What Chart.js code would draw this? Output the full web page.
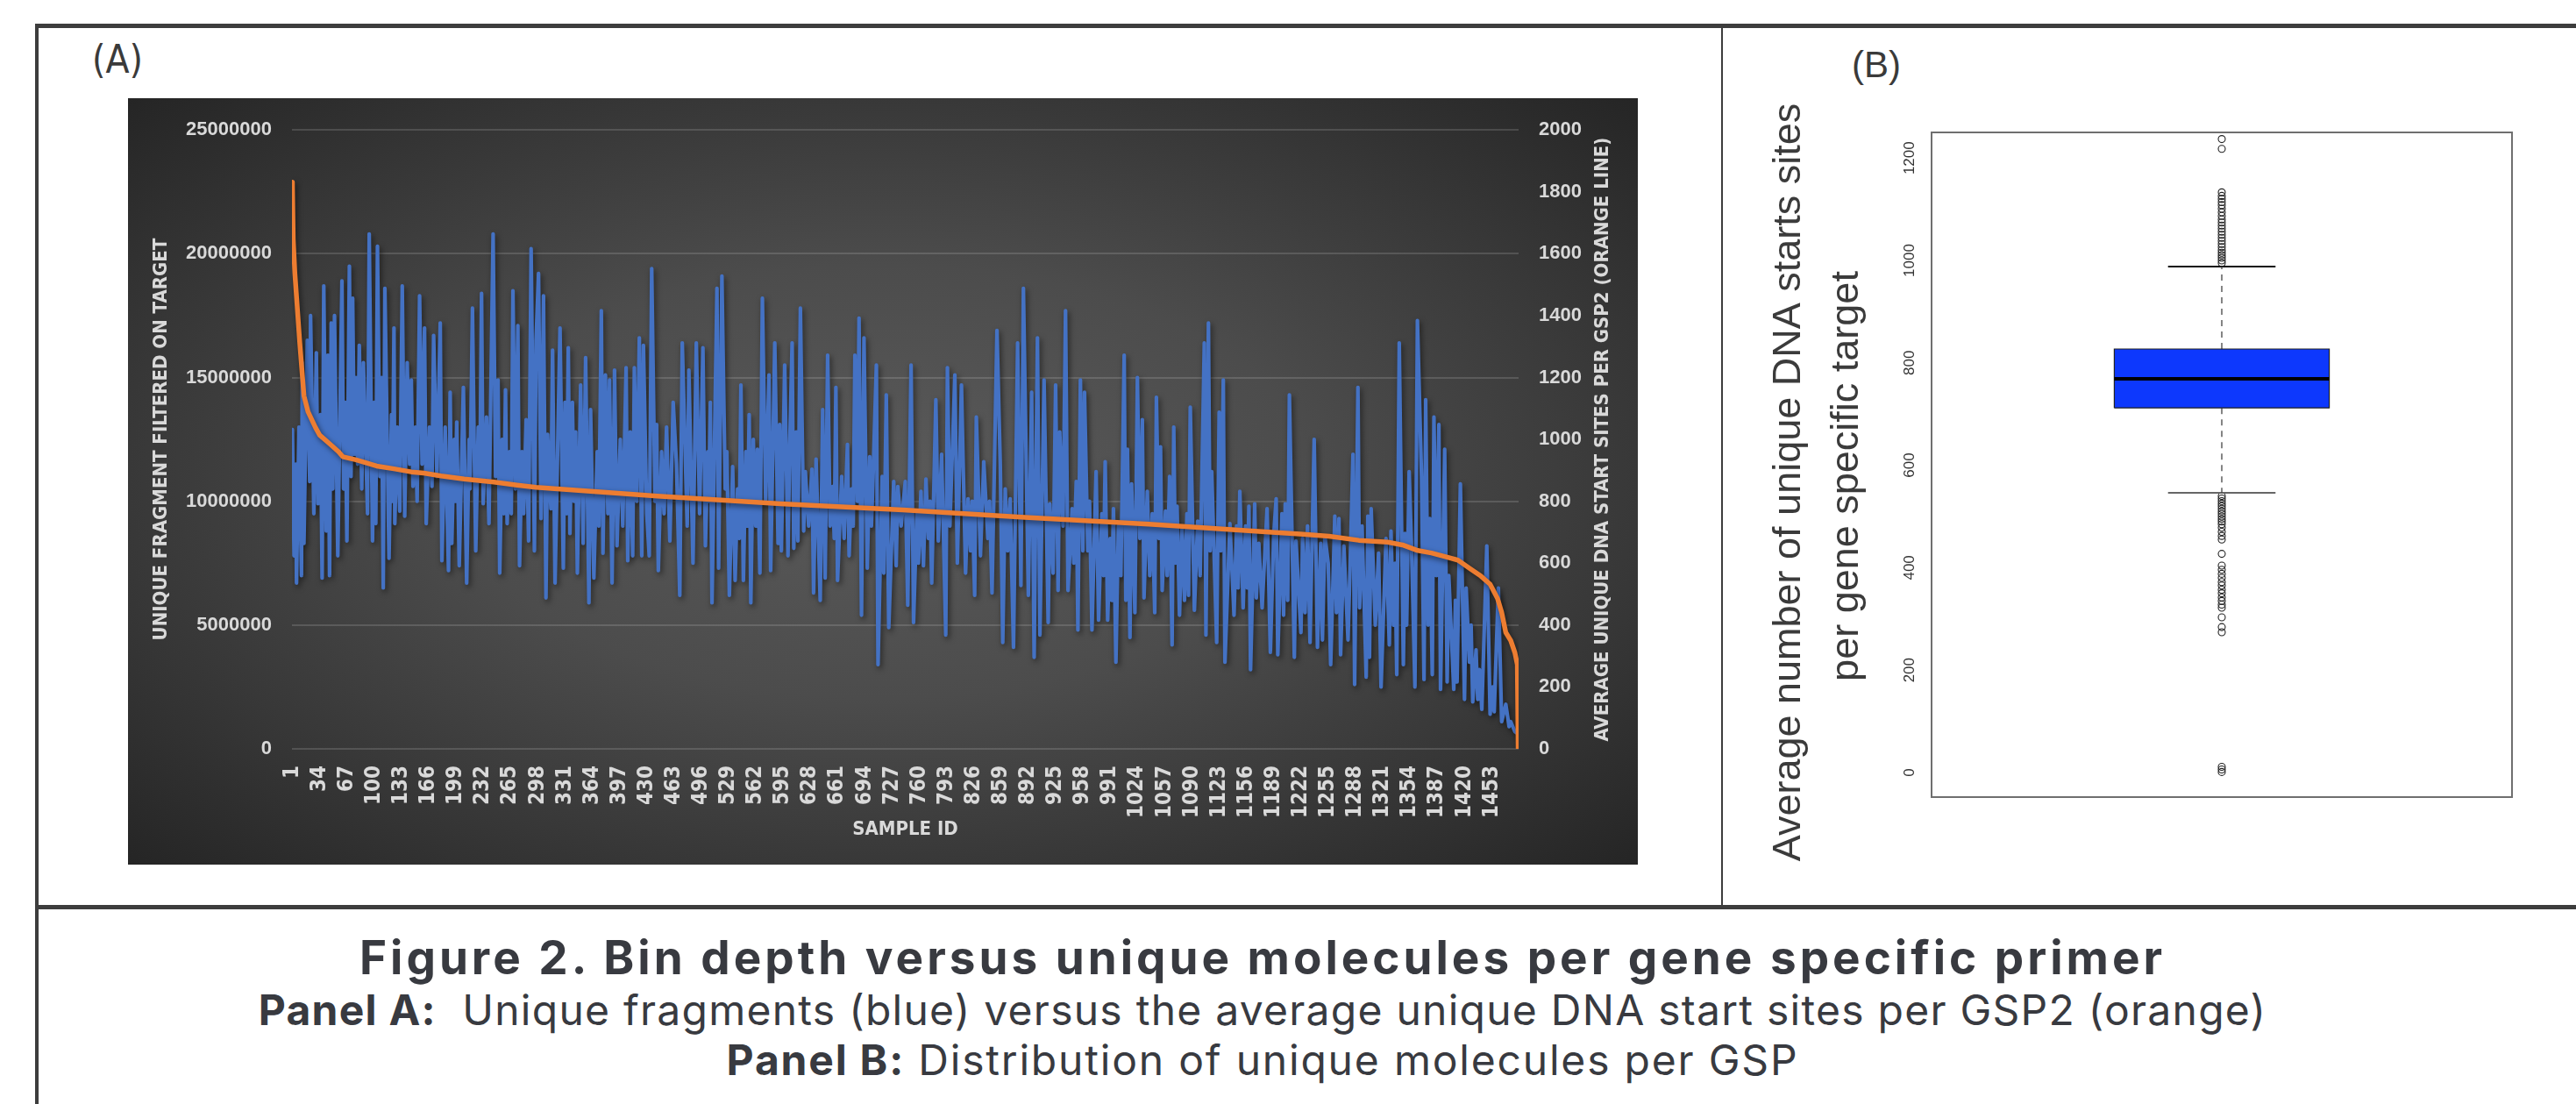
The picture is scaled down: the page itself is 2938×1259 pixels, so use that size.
<!DOCTYPE html>
<html>
<head>
<meta charset="utf-8">
<script src="https://cdn.jsdelivr.net/npm/chart.js@4.4.1/dist/chart.umd.min.js"></script>
<style>
  html, body { margin: 0; padding: 0; background: #fff; }
  body { width: 2938px; height: 1259px; position: relative; overflow: hidden; font-family: "Liberation Sans", Arial, sans-serif; }
  .rule { position: absolute; background: #3d3d3d; }
  #wrapA { position: absolute; left: 146px; top: 112px; width: 1722px; height: 874px;
    background: radial-gradient(ellipse at 50% 50%, #5a5a5a 0%, #4c4c4c 40%, #252525 100%); }
  #wrapB { position: absolute; left: 1975px; top: 90px; width: 955px; height: 930px; }
  .label { position: absolute; color: #3a3a3a; line-height: 1; white-space: nowrap; }
  .cap { position: absolute; left: 0; width: 2880px; text-align: center; color: #383a40; line-height: 1;
    font-family: Inter, "Open Sans", sans-serif; white-space: nowrap; }
  .cap b { font-weight: 700; }
</style>
</head>
<body>
<div class="rule" style="left:40px; top:27px; width:2898px; height:5px;"></div>
<div class="rule" style="left:40px; top:27px; width:4px; height:1232px;"></div>
<div class="rule" style="left:1963px; top:27px; width:2px; height:1008px;"></div>
<div class="rule" style="left:40px; top:1032px; width:2898px; height:5px;"></div>

<div class="label" style="left:105px; top:46px; font-size:44px; font-family:'Liberation Sans Narrow','DejaVu Sans Condensed',sans-serif;">(A)</div>
<div class="label" style="left:2112px; top:53px; font-size:42px;">(B)</div>

<div id="wrapA"><canvas id="chartA" width="1722" height="874"></canvas></div>
<div id="wrapB"><canvas id="chartB" width="955" height="930"></canvas></div>

<div class="cap" style="top:1066px; font-size:53px; letter-spacing:4px;"><b>Figure 2. Bin depth versus unique molecules per gene specific primer</b></div>
<div class="cap" style="top:1128px; font-size:48px; letter-spacing:1.25px;"><b>Panel A:</b>&nbsp; Unique fragments (blue) versus the average unique DNA start sites per GSP2 (orange)</div>
<div class="cap" style="top:1185px; font-size:48px; letter-spacing:1.8px;"><b>Panel B:</b> Distribution of unique molecules per GSP</div>

<script>
// ---- Panel A data ----
const sampleTicks = [1, 34, 67, 100, 133, 166, 199, 232, 265, 298, 331, 364, 397, 430, 463, 496, 529, 562, 595, 628,
  661, 694, 727, 760, 793, 826, 859, 892, 925, 958, 991, 1024, 1057, 1090, 1123, 1156, 1189, 1222, 1255, 1288,
  1321, 1354, 1387, 1420, 1453];

// unique fragments filtered on target (millions), at the sample id in blueSample
const blueSample = [
  1,3,5,6,9,12,13,15,19,22,23,27,30,32,35,37,39,42,44,46,48,50,52,56,61,63,65,67,70,72,74,76,78,80,82,85,87,92,94,98,
  100,102,104,107,109,111,113,118,121,122,124,125,128,131,134,137,140,143,145,147,150,152,155,158,161,163,167,170,172,176,
  180,182,186,190,192,194,197,198,200,203,208,212,215,216,219,221,223,226,228,230,232,236,239,244,247,250,252,255,257,259,
  261,264,266,268,271,274,276,279,281,284,287,290,294,296,
  299,302,305,308,310,314,316,319,325,329,331,333,335,337,340,342,344,346,350,353,356,360,362,366,370,372,375,377,380,383,
  385,388,391,394,398,401,405,407,410,413,415,418,421,424,426,430,433,436,440,442,444,448,451,454,458,462,466,470,473,479,
  481,486,490,494,498,501,504,505,507,509,515,517,521,525,527,530,534,537,540,542,544,547,550,552,554,556,559,562,564,567,
  570,574,578,580,585,589,591,
  593,597,601,603,606,608,611,613,616,620,622,626,630,632,635,640,643,646,649,652,655,657,659,661,666,669,673,675,678,680,
  682,685,687,690,693,697,700,702,704,708,710,715,717,720,723,729,732,734,738,743,746,750,753,757,759,762,765,768,771,773,
  775,780,783,787,792,794,797,803,806,811,816,819,822,824,827,829,834,838,843,845,848,854,858,861,864,867,870,874,879,883,
  886,
  892,896,899,903,906,911,916,918,922,925,928,930,934,937,940,945,947,950,952,955,958,960,964,966,969,974,977,981,983,985,
  988,991,993,995,998,1001,1004,1008,1010,1012,1015,1017,1021,1024,1027,1030,1032,1036,1039,1042,1045,1047,1050,1052,1054,1058,1060,1063,1066,1068,
  1070,1072,1075,1078,1081,1084,1086,1088,1093,1097,1100,1105,1107,1110,1112,1114,1120,1123,1125,1128,1130,1136,1141,1144,1146,1148,1152,1155,1157,1159,
  1161,1166,1168,1171,1175,1181,1185,
  1189,1192,1194,1199,1201,1203,1206,1208,1214,1216,1222,1224,1227,1230,1233,1238,1242,1246,1248,1251,1255,1258,1263,1265,1268,1270,1274,1279,1282,1285,
  1287,1291,1293,1296,1301,1303,1305,1307,1312,1316,1319,1325,1329,1331,1334,1336,1338,1341,1346,1348,1350,1353,1356,1360,1363,1368,1371,1373,1376,1378,
  1381,1383,1386,1389,1391,1396,1399,1401,1407,1409,1411,1415,1420,1422,1426,1428,1430,1434,1436,1438,1441,1447,1451,1454,1456,1461,1465,1470,1474,1476,
  1481,1485
];
const blueFragmentsM = [
  12.9,7.8,11.5,6.7,13.0,7.0,15.6,8.3,16.5,10.8,17.5,9.5,16.0,9.9,13.5,6.9,18.7,8.8,15.9,7.0,17.2,10.5,17.5,7.8,18.9,10.5,14.0,8.4,19.5,11.0,18.2,11.9,15.0,11.5,16.3,10.5,15.6,9.5,20.8,8.4,
  14.0,9.1,20.3,11.0,15.0,6.5,18.6,7.7,13.5,10.0,17.0,9.1,13.0,9.6,18.7,9.4,15.6,11.5,14.9,10.6,13.0,10.0,18.3,11.5,17.0,9.1,13.0,10.6,16.7,11.0,
  17.2,7.6,13.0,7.2,14.4,8.3,12.5,10.0,13.2,7.4,14.6,6.7,12.5,10.5,17.8,12.5,8.0,13.0,10.8,18.4,9.9,13.4,9.1,20.8,11.0,14.9,7.1,12.5,9.5,14.5,
  9.1,12.0,9.5,18.5,10.5,17.1,7.4,12.0,9.5,13.3,8.4,20.2,8.0,16.5,
  19.2,9.3,18.3,6.1,12.7,9.7,16.1,6.7,17.0,7.3,14.0,9.5,16.2,8.7,14.0,10.0,12.8,7.1,14.7,8.3,15.8,5.9,13.7,6.9,12.0,9.0,17.7,7.9,15.1,9.5,
  14.9,6.7,15.3,8.2,12.5,9.0,15.4,7.6,12.8,7.8,15.4,10.0,16.6,7.8,16.3,9.5,7.8,19.4,10.0,13.1,7.2,12.0,9.5,13.0,8.4,14.0,11.5,6.2,16.4,9.0,
  15.3,7.5,16.4,9.5,16.2,8.2,12.0,10.0,14.0,5.9,18.6,7.3,19.1,10.5,12.0,6.2,11.4,6.8,10.5,8.5,14.7,6.8,12.0,9.0,13.5,5.9,12.5,9.0,12.1,7.1,
  18.2,10.0,15.1,7.2,16.4,8.3,13.1,
  8.0,15.5,7.8,12.1,16.4,8.1,12.8,8.4,17.8,8.8,11.2,9.0,11.3,6.3,11.7,6.0,13.7,6.9,15.9,9.0,10.6,8.5,14.6,6.8,11.0,8.5,12.3,7.8,10.5,9.0,
  15.9,10.0,17.4,5.4,16.6,7.3,11.8,9.0,11.0,15.5,3.4,11.0,7.1,14.3,4.9,10.8,7.4,10.6,9.0,10.8,5.8,15.5,5.1,9.5,7.5,10.4,7.4,10.9,8.5,10.0,
  6.7,14.1,8.4,11.9,4.6,15.4,9.0,15.1,7.5,14.7,7.1,10.1,8.0,10.0,6.2,13.4,7.8,11.6,8.5,10.0,6.3,16.9,11.5,4.3,10.5,8.0,10.1,4.1,16.4,6.6,
  18.6,
  6.2,14.4,3.7,16.6,4.6,14.9,5.1,9.9,7.1,14.7,6.4,12.8,9.0,17.7,6.4,9.7,7.5,10.8,4.8,14.9,8.0,14.4,8.0,10.0,4.8,11.2,5.2,9.5,7.0,11.6,
  5.2,8.5,6.0,9.7,3.5,9.0,7.0,15.9,6.0,12.1,4.5,10.7,5.5,15.0,8.5,13.3,6.1,10.4,7.0,9.5,5.5,14.2,8.5,12.2,6.4,9.6,7.0,11.0,4.2,13.0,
  7.5,9.8,5.4,9.0,6.0,9.5,6.2,13.8,5.6,9.2,7.0,16.4,4.6,17.2,8.0,11.2,4.3,13.6,8.0,14.9,3.5,9.1,5.4,9.0,6.5,10.4,5.7,9.0,6.5,9.8,
  3.2,9.9,6.1,8.3,5.7,9.7,3.9,
  8.6,10.1,3.8,9.5,5.4,9.9,6.0,14.3,3.7,8.4,4.7,8.5,5.5,9.0,4.3,12.5,4.1,8.3,4.4,8.6,7.5,3.4,9.4,5.5,9.3,3.8,8.2,4.4,8.0,11.9,
  2.6,14.6,5.7,9.0,2.9,9.4,3.7,9.7,5.0,7.9,2.5,8.5,4.2,8.8,5.0,7.5,3.0,16.4,3.4,8.7,5.0,11.2,8.0,2.5,17.3,11.0,2.8,14.1,5.0,9.3,
  3.0,13.4,7.0,13.1,2.4,12.1,2.7,7.0,2.4,6.0,2.7,10.7,2.0,6.5,3.5,5.0,1.9,4.0,2.0,3.2,1.6,8.2,1.4,2.5,1.5,6.5,1.1,1.8,0.9,1.1,
  0.7,0.6
];

// average unique DNA start sites per GSP2 (right axis)
const orangeSample = [1, 2, 4, 10, 15, 20, 29, 34, 46, 57, 62, 78, 103, 124, 145, 160, 181, 209, 245, 273,
  296, 443, 592, 740, 888, 1038, 1187, 1221, 1256, 1292, 1327, 1345, 1362, 1380, 1398, 1412, 1426, 1440, 1451, 1460,
  1465, 1470, 1476, 1481, 1484, 1485];
const orangeStarts = [1831, 1647, 1537, 1310, 1141, 1089, 1038, 1014, 986, 960, 944, 934, 914, 905, 895, 891, 882, 872, 862, 852,
  845, 817, 792, 772, 748, 726, 700, 694, 687, 674, 668, 659, 642, 633, 620, 610, 584, 558, 532, 486,
  441, 376, 350, 311, 272, 0];

// ---- Panel B data ----
const boxTicks = [0, 200, 400, 600, 800, 1000, 1200];
const boxQ1 = 712, boxMedian = 769, boxQ3 = 827, whiskerLow = 546, whiskerHigh = 988;
const outliersHigh = [995, 1000, 1005, 1010, 1015, 1020, 1026, 1032, 1038, 1044, 1050, 1056, 1062, 1068, 1074,
  1080, 1087, 1094, 1101, 1108, 1114, 1120, 1126, 1133, 1218, 1237];
const outliersLow = [540, 535, 530, 525, 520, 515, 510, 505, 500, 495, 490, 485, 478, 470, 462, 455, 427,
  404, 396, 388, 380, 372, 365, 357, 350, 342, 335, 328, 322, 303, 284, 274, 11, 6, 1];
const boxTitle = ['Average number of unique DNA starts sites', 'per gene specific target'];

const narrow = '"Liberation Sans Narrow", "DejaVu Sans Condensed", "Liberation Sans", sans-serif';
const light = '#d9d9d9';

const lineShadow = {
  id: 'lineShadow',
  beforeDatasetsDraw(chart) {
    const c = chart.ctx;
    c.save();
    c.shadowColor = 'rgba(0,0,0,0.55)';
    c.shadowBlur = 6;
    c.shadowOffsetX = 2;
    c.shadowOffsetY = 3;
  },
  afterDatasetsDraw(chart) { chart.ctx.restore(); }
};

// right axis title reads bottom-to-top in the original
const rightTitle = {
  id: 'rightTitle',
  afterDraw(chart) {
    const { ctx, chartArea } = chart;
    const s = chart.scales.y2;
    ctx.save();
    ctx.translate(s.right - 40, (chartArea.top + chartArea.bottom) / 2);
    ctx.rotate(-Math.PI / 2);
    ctx.font = 'bold 22px ' + narrow;
    ctx.fillStyle = light;
    ctx.textAlign = 'center';
    ctx.textBaseline = 'middle';
    ctx.fillText('AVERAGE UNIQUE DNA START SITES PER GSP2 (ORANGE LINE)', 0, 0);
    ctx.restore();
  }
};

new Chart(document.getElementById('chartA'), {
  type: 'line',
  data: {
    datasets: [
      {
        label: 'Average unique DNA start sites per GSP2',
        data: orangeSample.map((x, i) => ({ x, y: orangeStarts[i] })),
        yAxisID: 'y2',
        borderColor: '#ED7D31', borderWidth: 5.5, pointRadius: 0, tension: 0,
        borderJoinStyle: 'round', borderCapStyle: 'round'
      },
      {
        label: 'Unique fragments',
        data: blueSample.map((x, i) => ({ x, y: blueFragmentsM[i] * 1e6 })),
        yAxisID: 'y',
        borderColor: '#4472C4', borderWidth: 4.2, pointRadius: 0, tension: 0,
        borderJoinStyle: 'round', borderCapStyle: 'round'
      }
    ]
  },
  options: {
    responsive: false,
    animation: false,
    layout: { padding: { top: 25, left: 0, right: 0, bottom: 0 } },
    plugins: { legend: { display: false }, tooltip: { enabled: false } },
    scales: {
      x: {
        type: 'linear', min: 0.5, max: 1485.5,
        afterBuildTicks: s => { s.ticks = sampleTicks.map(v => ({ value: v })); },
        afterFit: s => { s.height = 132; },
        ticks: { autoSkip: false, minRotation: 90, maxRotation: 90, padding: 19, color: light,
          font: { family: narrow, weight: 'bold', size: 24 }, callback: v => String(v) },
        grid: { display: false, drawTicks: false },
        border: { display: false },
        title: { display: true, text: 'SAMPLE ID', color: light,
          font: { family: narrow, weight: 'bold', size: 22 }, padding: { top: 0, bottom: 27 } }
      },
      y: {
        position: 'left', min: 0, max: 25000000,
        afterFit: s => { s.width = 187; },
        ticks: { stepSize: 5000000, padding: 23, color: light,
          font: { family: '"Liberation Sans", Arial, sans-serif', weight: 'bold', size: 22 }, callback: v => String(v) },
        grid: { color: 'rgba(255,255,255,0.14)', lineWidth: 2, drawTicks: false },
        border: { display: false },
        title: { display: true, text: 'UNIQUE FRAGMENT FILTERED ON TARGET', color: light,
          font: { family: narrow, weight: 'bold', size: 22 }, padding: { top: 25, bottom: 0 } }
      },
      y2: {
        position: 'right', min: 0, max: 2000,
        afterFit: s => { s.width = 136; },
        ticks: { stepSize: 200, padding: 23, color: light,
          font: { family: '"Liberation Sans", Arial, sans-serif', weight: 'bold', size: 22 }, callback: v => String(v) },
        grid: { display: false, drawTicks: false },
        border: { display: false }
      }
    }
  },
  plugins: [lineShadow, rightTitle]
});

// ---- Panel B: R-style boxplot ----
const boxHalf = 0.2, capHalf = 0.1;

const boxFrame = {
  id: 'boxFrame',
  afterDraw(chart) {
    const { ctx, chartArea } = chart;
    const y = chart.scales.y;
    const midY = (chartArea.top + chartArea.bottom) / 2;
    ctx.save();
    ctx.strokeStyle = '#6f6f6f';
    ctx.lineWidth = 2;
    ctx.strokeRect(chartArea.left, chartArea.top, chartArea.right - chartArea.left, chartArea.bottom - chartArea.top);
    ctx.font = '17px "Liberation Sans", Arial, sans-serif';
    ctx.fillStyle = '#333';
    ctx.textAlign = 'center';
    ctx.textBaseline = 'middle';
    boxTicks.forEach(v => {
      ctx.save();
      ctx.translate(chartArea.left - 25, y.getPixelForValue(v));
      ctx.rotate(-Math.PI / 2);
      ctx.fillText(String(v), 0, 0);
      ctx.restore();
    });
    // two-line y title, bottom-to-top
    ctx.font = '45px "Liberation Sans", Arial, sans-serif';
    ctx.fillStyle = '#3b3b3b';
    [[-162, 20], [-96, 13]].forEach(([dx, dy], i) => {
      ctx.save();
      ctx.translate(chartArea.left + dx, midY + dy);
      ctx.rotate(-Math.PI / 2);
      ctx.fillText(boxTitle[i], 0, 0);
      ctx.restore();
    });
    ctx.restore();
  }
};

const seg = (x0, y0, x1, y1) => [{ x: x0, y: y0 }, { x: x1, y: y1 }];

new Chart(document.getElementById('chartB'), {
  type: 'line',
  data: {
    datasets: [
      { data: seg(1 - boxHalf, boxMedian, 1 + boxHalf, boxMedian), borderColor: '#000', borderWidth: 4, pointRadius: 0 },
      { data: [{ x: 1 - boxHalf, y: boxQ1 }, { x: 1 + boxHalf, y: boxQ1 }, { x: 1 + boxHalf, y: boxQ3 },
               { x: 1 - boxHalf, y: boxQ3 }, { x: 1 - boxHalf, y: boxQ1 }],
        borderColor: '#222', borderWidth: 1.2, pointRadius: 0 },
      { data: seg(1, boxQ3, 1, whiskerHigh), borderColor: '#444', borderWidth: 1.3, borderDash: [7, 6], pointRadius: 0 },
      { data: seg(1, boxQ1, 1, whiskerLow), borderColor: '#444', borderWidth: 1.3, borderDash: [7, 6], pointRadius: 0 },
      { data: seg(1 - capHalf, whiskerHigh, 1 + capHalf, whiskerHigh), borderColor: '#111', borderWidth: 2, pointRadius: 0 },
      { data: seg(1 - capHalf, whiskerLow, 1 + capHalf, whiskerLow), borderColor: '#666', borderWidth: 2, pointRadius: 0 },
      { data: outliersHigh.concat(outliersLow).map(v => ({ x: 1, y: v })), showLine: false,
        pointRadius: 4, pointBorderWidth: 1.1, pointBorderColor: '#222', pointBackgroundColor: 'rgba(0,0,0,0)' },
      { data: seg(1 - boxHalf, boxQ1, 1 + boxHalf, boxQ1), borderWidth: 0, pointRadius: 0 },
      { data: seg(1 - boxHalf, boxQ3, 1 + boxHalf, boxQ3), borderWidth: 0, pointRadius: 0,
        fill: '-1', backgroundColor: '#0d38fd' }
    ]
  },
  options: {
    responsive: false,
    animation: false,
    layout: { padding: { top: 61, right: 65, bottom: 111, left: 0 } },
    plugins: { legend: { display: false }, tooltip: { enabled: false } },
    scales: {
      x: { type: 'linear', min: 0.46, max: 1.54, display: false },
      y: {
        min: -48, max: 1250,
        afterFit: s => { s.width = 228; },
        ticks: { display: false },
        grid: { display: false, drawTicks: false },
        border: { display: false },
        title: { display: false }
      }
    }
  },
  plugins: [boxFrame]
});
</script>
</body>
</html>
